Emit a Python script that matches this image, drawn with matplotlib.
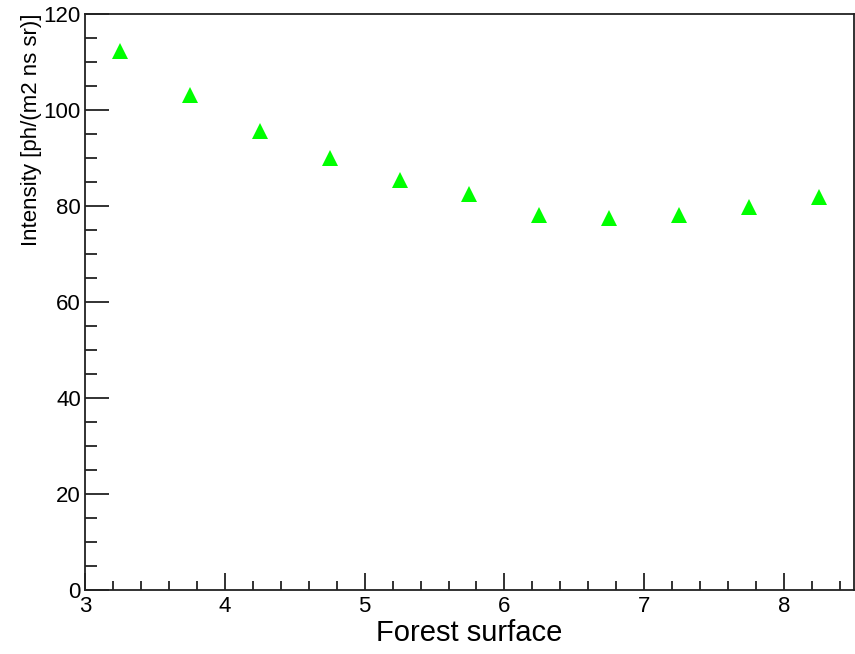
import numpy as np
import matplotlib
matplotlib.use("Agg")
import matplotlib.pyplot as plt
from matplotlib.ticker import MultipleLocator

# ---- data ----
surface = [3.25, 3.75, 4.25, 4.75, 5.25, 5.75, 6.25, 6.75, 7.25, 7.75, 8.25]
intensity = [112.3, 103.1, 95.6, 89.9, 85.4, 82.6, 78.1, 77.6, 78.2, 79.7, 81.9]

plt.rcParams['font.family'] = ['Liberation Sans', 'DejaVu Sans']

fig = plt.figure(figsize=(8.55, 6.54), dpi=100)
ax = fig.add_axes([0.0994, 0.0979, 0.8994, 0.8807])

ax.plot(surface, intensity, linestyle='none', marker='^', markersize=12,
        color='#00ff00', markeredgewidth=0)

ax.set_xlim(3, 8.5)
ax.set_ylim(0, 120)
ax.xaxis.set_major_locator(MultipleLocator(1))
ax.xaxis.set_minor_locator(MultipleLocator(0.2))
ax.yaxis.set_major_locator(MultipleLocator(20))
ax.yaxis.set_minor_locator(MultipleLocator(5))

for s in ax.spines.values():
    s.set_linewidth(1.3)
    s.set_color('#222222')

ax.tick_params(axis='both', which='both', direction='in', color='#222222',
               top=False, right=False, labelsize=16)
ax.tick_params(axis='y', which='major', length=17, width=1.3, pad=3)
ax.tick_params(axis='y', which='minor', length=8.6, width=1.3)
ax.tick_params(axis='x', which='major', length=12, width=1.3, pad=4)
ax.tick_params(axis='x', which='minor', length=6.5, width=1.3)

ax.set_xlabel("Forest surface", fontsize=21, labelpad=2)
ax.set_ylabel("Intensity [ph/(m2 ns sr)]", fontsize=16, loc='top')
ax.yaxis.set_label_coords(-0.056, 1.0)

fig.savefig("out.png", dpi=100)
